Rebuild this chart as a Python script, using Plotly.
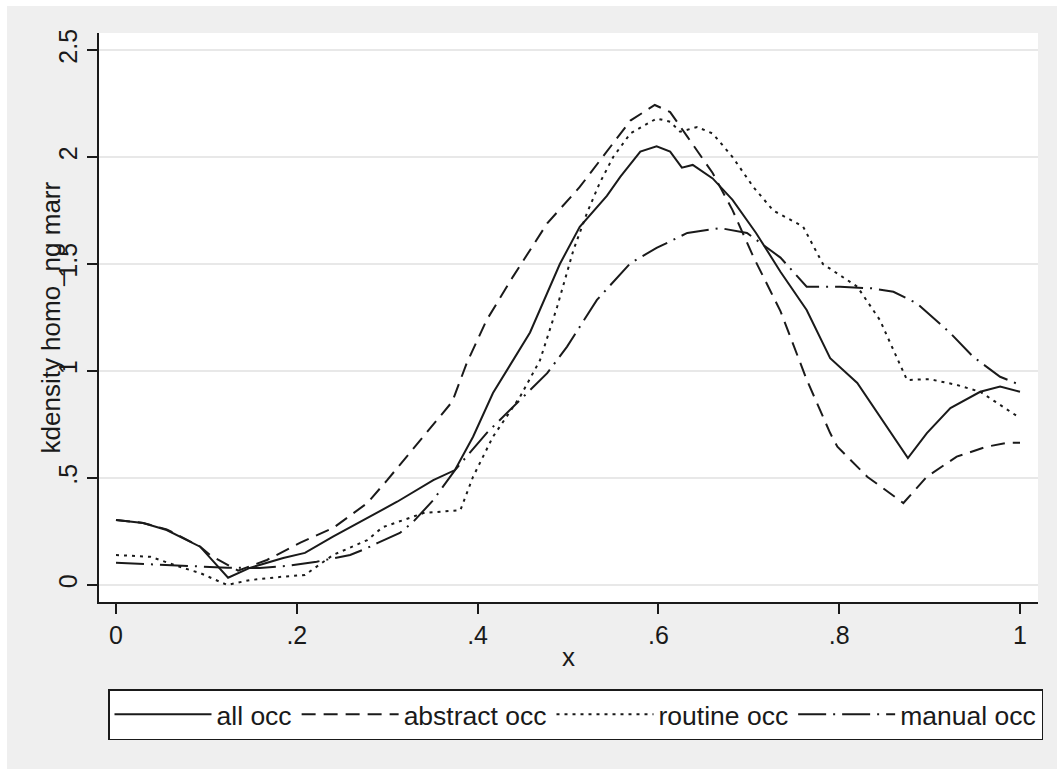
import plotly.graph_objects as go

# ---------------- data ----------------
all_x = [0, 0.03, 0.056, 0.093, 0.124, 0.148, 0.185, 0.209, 0.240, 0.278, 0.311, 0.351, 0.375,
         0.395, 0.417, 0.458, 0.480, 0.491, 0.513, 0.543, 0.558, 0.580, 0.598, 0.613, 0.626,
         0.638, 0.660, 0.682, 0.708, 0.735, 0.764, 0.790, 0.820, 0.845, 0.876, 0.897, 0.923,
         0.956, 0.978, 1.0]
all_y = [0.304, 0.29, 0.257, 0.179, 0.034, 0.08, 0.126, 0.15, 0.226, 0.313, 0.389, 0.49, 0.537,
         0.693, 0.897, 1.18, 1.394, 1.50, 1.674, 1.818, 1.908, 2.025, 2.05, 2.025, 1.95,
         1.963, 1.90, 1.80, 1.645, 1.464, 1.285, 1.06, 0.944, 0.786, 0.593, 0.71, 0.827,
         0.903, 0.927, 0.903]

abstract_x = [0, 0.03, 0.056, 0.093, 0.104, 0.135, 0.167, 0.204, 0.240, 0.278, 0.300, 0.340,
              0.372, 0.388, 0.410, 0.439, 0.477, 0.513, 0.533, 0.543, 0.569, 0.596, 0.613,
              0.632, 0.660, 0.682, 0.705, 0.735, 0.764, 0.790, 0.798, 0.831, 0.856, 0.871,
              0.897, 0.930, 0.963, 0.986, 1.0]
abstract_y = [0.304, 0.29, 0.26, 0.18, 0.14, 0.067, 0.117, 0.198, 0.266, 0.383, 0.49, 0.693,
              0.857, 1.037, 1.238, 1.44, 1.69, 1.86, 1.97, 2.03, 2.17, 2.243, 2.21,
              2.095, 1.925, 1.752, 1.534, 1.28, 0.96, 0.71, 0.646, 0.506, 0.43, 0.383,
              0.506, 0.60, 0.646, 0.665, 0.665]

routine_x = [0, 0.038, 0.074, 0.093, 0.123, 0.148, 0.185, 0.209, 0.240, 0.278, 0.295, 0.340,
             0.381, 0.395, 0.417, 0.447, 0.469, 0.488, 0.506, 0.521, 0.535, 0.550, 0.569,
             0.598, 0.613, 0.624, 0.643, 0.660, 0.682, 0.705, 0.727, 0.760, 0.782, 0.820,
             0.845, 0.875, 0.900, 0.930, 0.956, 1.0]
routine_y = [0.14, 0.132, 0.08, 0.056, 0.0, 0.023, 0.039, 0.047, 0.14, 0.21, 0.27, 0.336,
             0.35, 0.506, 0.693, 0.88, 1.05, 1.30, 1.565, 1.738, 1.878, 2.0, 2.11,
             2.18, 2.165, 2.118, 2.14, 2.11, 2.0, 1.86, 1.75, 1.675, 1.50, 1.394,
             1.238, 0.958, 0.962, 0.935, 0.903, 0.78]

manual_x = [0, 0.056, 0.085, 0.123, 0.159, 0.189, 0.222, 0.259, 0.278, 0.289, 0.314, 0.329,
            0.351, 0.375, 0.410, 0.447, 0.477, 0.499, 0.532, 0.569, 0.598, 0.632, 0.668,
            0.698, 0.735, 0.764, 0.801, 0.837, 0.860, 0.886, 0.923, 0.948, 0.978, 1.0]
manual_y = [0.104, 0.093, 0.086, 0.081, 0.079, 0.089, 0.109, 0.14, 0.173, 0.196, 0.243, 0.296,
            0.397, 0.537, 0.71, 0.864, 0.99, 1.114, 1.332, 1.504, 1.575, 1.645, 1.668,
            1.645, 1.53, 1.394, 1.394, 1.386, 1.37, 1.316, 1.177, 1.067, 0.973, 0.935]

series_names = ["all occ", "abstract occ", "routine occ", "manual occ"]
x_tick_vals = [0, 0.2, 0.4, 0.6, 0.8, 1.0]
x_tick_text = ["0", ".2", ".4", ".6", ".8", "1"]
y_tick_vals = [0, 0.5, 1.0, 1.5, 2.0, 2.5]
y_tick_text = ["0", ".5", "1", "1.5", "2", "2.5"]
y_title = "kdensity homo_ng marr"
x_title = "x"

# ---------------- figure ----------------
W, H = 1057, 769
L, R, T, B = 99, 1038, 33, 602  # plot area in px
FONT = "Liberation Sans, Arial, Helvetica, sans-serif"
INK = "#1a1a1a"


def px_x(p):
    return (p - L) / (R - L)


def px_y(p):
    return (B - p) / (B - T)


dashes = ["solid", "14px,8px", "3px,5px", "28px,7px,2px,7px"]
xs = [all_x, abstract_x, routine_x, manual_x]
ys = [all_y, abstract_y, routine_y, manual_y]

fig = go.Figure()
for name, x, y, d in zip(series_names, xs, ys, dashes):
    fig.add_trace(go.Scatter(x=x, y=y, mode="lines", name=name,
                             line=dict(color=INK, width=2, dash=d)))

fig.update_layout(
    width=W, height=H, autosize=False,
    margin=dict(l=L, r=W - R, t=T, b=H - B, pad=0),
    paper_bgcolor="white", plot_bgcolor="white",
    font=dict(family=FONT, size=25, color=INK),
    showlegend=True,
    legend=dict(orientation="h", x=px_x(108), xanchor="left", y=px_y(689), yanchor="top",
                bgcolor="white", bordercolor=INK, borderwidth=1.5,
                font=dict(size=26.5, family=FONT, color=INK),
                itemwidth=97, tracegroupgap=0,
                itemclick=False, itemdoubleclick=False),
    xaxis=dict(range=[(L - 116) / 904, (R - 116) / 904], tickvals=x_tick_vals, ticktext=x_tick_text,
               showgrid=False, zeroline=False, showline=True, linecolor=INK, linewidth=1.5,
               ticks="outside", ticklen=10, tickwidth=1.5, tickcolor=INK,
               tickfont=dict(size=25, family=FONT, color=INK), mirror=False),
    yaxis=dict(range=[(585 - B) / 214, (585 - T) / 214], tickvals=y_tick_vals, ticktext=y_tick_text,
               showgrid=True, gridcolor="#e8e8e8", gridwidth=2, zeroline=False,
               showline=True, linecolor=INK, linewidth=1.5,
               ticks="outside", ticklen=10, tickwidth=1.5, tickcolor=INK, tickangle=-90,
               tickfont=dict(size=25, family=FONT, color=INK), mirror=False),
    shapes=[
        dict(type="rect", xref="paper", yref="paper", layer="below",
             x0=px_x(7), x1=px_x(W + 5), y0=px_y(H + 5), y1=px_y(6),
             fillcolor="#efefef", line=dict(width=0)),
        dict(type="rect", xref="paper", yref="paper", layer="below",
             x0=0, x1=1, y0=0, y1=1, fillcolor="white", line=dict(width=0)),
    ],
    annotations=[
        dict(text=y_title, textangle=-90, xref="paper", yref="paper", x=px_x(50), y=0.5,
             xanchor="center", yanchor="middle", showarrow=False,
             font=dict(size=26, family=FONT, color=INK)),
        dict(text=x_title, xref="paper", yref="paper", x=0.5, y=px_y(657),
             xanchor="center", yanchor="middle", showarrow=False,
             font=dict(size=26, family=FONT, color=INK)),
    ],
)

fig.write_html("out.html", config={"displayModeBar": False},
               post_script="document.body.style.margin='0';document.body.style.overflow='hidden';")
